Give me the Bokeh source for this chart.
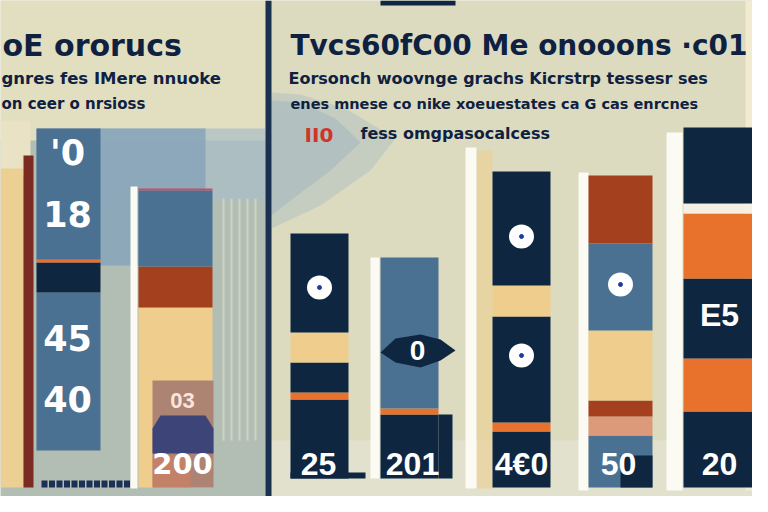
import numpy as np
from bokeh.plotting import figure
from bokeh.models import Range1d, ColumnDataSource
from bokeh.core.properties import value
from bokeh.embed import file_html
from bokeh.resources import INLINE

# ---------------- data ----------------
bar_names = ["L1", "L2", "R1", "R2", "R3", "R4", "R5"]
seg_L1 = [9.25, 39.5, 7.5, 0.75, 32.75]
seg_L2 = [45, 10.25, 19, 0.5]
seg_R1 = [2.25, 19.75, 1.75, 7.5, 7.5, 24.75]
seg_R2 = [2.25, 16, 1.5, 37.75]
seg_R3 = [14, 2.25, 26.5, 7.75, 28.5]
seg_R4 = [13, 4.75, 4, 17.5, 21.75, 17]
seg_R5 = [19, 13.25, 20, 16.25, 2.5, 19]
col_L1 = ["none", "steel", "navy", "orange", "steel"]
col_L2 = ["sand", "rust", "steel", "pink"]
col_R1 = ["none", "navy", "orange", "navy", "sand", "navy"]
col_R2 = ["none", "navy", "orange", "steel"]
col_R3 = ["navy", "orange", "navy", "sand", "navy"]
col_R4 = ["steel", "salmon", "rust", "sand", "steel", "rust"]
col_R5 = ["navy", "orange", "navy", "orange", "gap", "navy"]

left_title = "oE ororucs"
left_sub1 = "gnres fes  IMere  nnuoke"
left_sub2 = "on ceer o nrsioss"
right_title = "Tvcs60fC00 Me onooons  \u00b7c01"
right_sub1 = "Eorsonch  woovnge grachs  Kicrstrp tessesr ses"
right_sub2 = "enes mnese co nike xoeuestates ca G cas enrcnes"
legend_mark = "II0"
legend_text = "fess omgpasocalcess"
left_bar_labels = ["'0", "18", "45", "40"]
box_labels = ["03", "200"]
right_bar_labels = ["25", "201", "4\u20ac0", "50", "20"]
mid_label = "E5"
eye_label = "0"

# ---------------- layout / styles ----------------
C = {"navy": "#0e2640", "steel": "#4a7191", "orange": "#e8722c", "rust": "#a5401f",
     "sand": "#efcd8c", "salmon": "#dc9a7b", "gap": "#f4f1e2", "pink": "#c0506a"}
bar_x = [68, 175, 319, 409, 521, 620, 719]
bar_w = [64, 74, 58, 58, 58, 64, 72]
segs = [seg_L1, seg_L2, seg_R1, seg_R2, seg_R3, seg_R4, seg_R5]
cols = [col_L1, col_L2, col_R1, col_R2, col_R3, col_R4, col_R5]


def Y(py):
    return (487 - py) / 4.0


FONT = value("Liberation Sans")
TFONT = value("DejaVu Sans")

p = figure(width=752, height=496, x_range=Range1d(0, 752), y_range=Range1d(Y(496), Y(0)),
           output_backend="svg", toolbar_location=None, min_border=0,
           x_axis_type=None, y_axis_type=None, background_fill_color="#dbdabd",
           border_fill_color="#dbdabd", outline_line_color=None)
p.grid.visible = False


def box(x0, x1, py0, py1, color, alpha=1.0):
    p.quad(left=x0, right=x1, top=Y(py0), bottom=Y(py1), fill_color=color,
           fill_alpha=alpha, line_color=None)


# background regions
box(0, 265, 0, 140, "#e2dec0")
box(0, 265, 140, 512, "#b2beb4")
box(0, 30, 120, 175, "#e9e2c4")
box(100, 265, 128, 200, "#a9bec6", 0.7)
box(36, 205, 128, 265, "#86a5b8", 0.85)
box(271, 768, 0, 512, "#dcdbc0")
box(271, 768, 440, 505, "#e1e1cf", 0.9)
p.patch(x=[271, 300, 345, 395, 370, 320, 271],
        y=[Y(92), Y(94), Y(108), Y(138), Y(170), Y(205), Y(228)],
        fill_color="#a9bcc2", fill_alpha=0.45, line_color=None)
p.patch(x=[271, 300, 335, 360, 330, 290, 271],
        y=[Y(100), Y(102), Y(118), Y(142), Y(170), Y(200), Y(215)],
        fill_color="#9fb4bd", fill_alpha=0.5, line_color=None)
box(745, 768, 0, 490, "#f4ecd2", 0.9)
box(476, 492, 150, 488, "#efcf8f", 0.6)
box(0, 23, 168, 487, "#eccf92")
box(380, 455, 0, 5, C["navy"])

# left decorations
box(23, 33, 155, 487, "#7b2b22")
for xv in [223, 231, 239, 247, 255]:
    p.segment(x0=xv, x1=xv, y0=Y(198), y1=Y(440), line_color="#cfd2c3", line_width=2)
for xv in np.arange(44, 130, 7.5):
    box(xv - 3, xv + 3, 480, 487, "#1c2f55")

# white separators
for (x0, x1, t, b) in [(130, 137, 186, 488), (370, 379, 257, 478), (465, 476, 147, 488),
                       (578, 588, 172, 490), (666, 682, 132, 490)]:
    box(x0, x1, t, b, "#fbfaf3")

# stacked bars
for name, xc, w, sg, cl in zip(bar_names, bar_x, bar_w, segs, cols):
    tops = np.cumsum(sg)
    bots = tops - np.array(sg)
    keep = [i for i, c in enumerate(cl) if c != "none"]
    src = ColumnDataSource(dict(x=[xc] * len(keep), top=tops[keep], bottom=bots[keep],
                                color=[C[cl[i]] for i in keep]))
    p.vbar(x="x", width=w, top="top", bottom="bottom", fill_color="color",
           line_color=None, source=src)

# extra navy ledges
box(290, 365, 472, 478, C["navy"])
box(438, 452, 414, 478, C["navy"])
box(620, 652, 455, 487, C["navy"])
p.patch(x=[755, 768, 768], y=[Y(283), Y(280), Y(305)], fill_color=C["navy"], line_color=None)

# box overlay in L2
box(152, 213, 380, 487, "#a97e72", 0.95)
p.patch(x=[160, 205, 213, 213, 152, 152], y=[Y(415), Y(415), Y(428), Y(453), Y(453), Y(428)],
        fill_color="#3d4477", line_color=None)
box(152, 190, 455, 487, "#d9805e", 0.5)

# eye in R2
p.patch(x=[380, 395, 420, 440, 455, 440, 420, 395],
        y=[Y(352), Y(338), Y(334), Y(339), Y(350), Y(360), Y(367), Y(362)],
        fill_color=C["navy"], line_color=None)

# dots
dx = [319, 521, 521, 620]
dy = [Y(287), Y(236), Y(355), Y(284)]
p.ellipse(x=dx, y=dy, width=25, height=6, fill_color="white", line_color=None)
p.scatter(x=dx, y=dy, size=4, color="#1f3aa0")


def txt(x, y, s, size, color="white", align="center", style="bold", font=FONT):
    p.text(x=[x], y=[y], text=[s], text_font=font, text_font_size=size,
           text_font_style=style, text_color=color, text_align=align,
           text_baseline="middle")


for s, py in zip(left_bar_labels, [152, 213, 337, 398]):
    txt(67, Y(py), s, "35px", font=TFONT)
txt(182, Y(400), box_labels[0], "22px", "#fbe6da")
txt(182, Y(463), box_labels[1], "29px", font=TFONT)
for s, xc in zip(right_bar_labels, [318, 412, 521, 618, 719]):
    txt(xc, Y(463), s, "32px")
txt(719, Y(314), mid_label, "32px")
txt(417, Y(350), eye_label, "28px")

# titles
NAVY_T = "#0f2140"
txt(2, Y(45), left_title, "30px", NAVY_T, "left", font=TFONT)
txt(290, Y(45), right_title, "28px", NAVY_T, "left", font=TFONT)
txt(1, Y(78), left_sub1, "16.5px", NAVY_T, "left", font=TFONT)
txt(1, Y(103), left_sub2, "15px", NAVY_T, "left", font=TFONT)
txt(288, Y(78), right_sub1, "16px", NAVY_T, "left", font=TFONT)
txt(290, Y(103), right_sub2, "14.5px", NAVY_T, "left", font=TFONT)
txt(304, Y(134), legend_mark, "20px", "#d0352a", "left", font=TFONT)
txt(360, Y(133), legend_text, "16px", NAVY_T, "left", font=TFONT)

# divider
box(265, 271, 0, 512, "#1b3150")

open("out.html", "w").write(file_html(p, INLINE))
